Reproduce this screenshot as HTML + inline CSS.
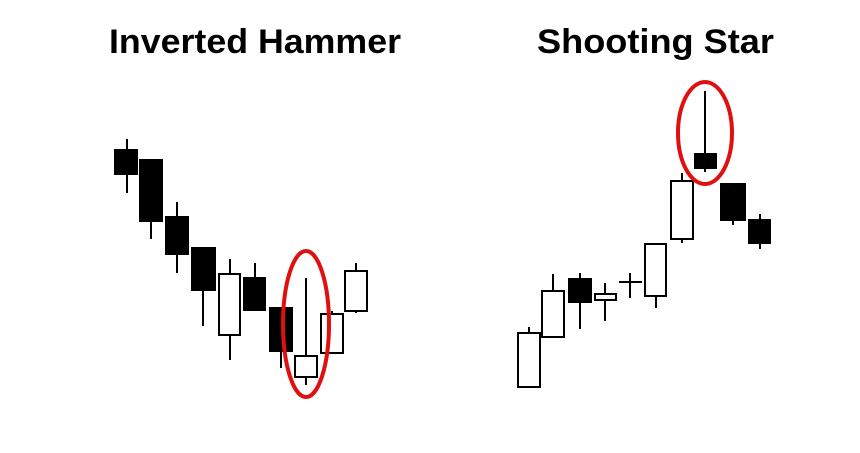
<!DOCTYPE html>
<html><head><meta charset="utf-8"><style>html,body{margin:0;padding:0;background:#fff;}svg{display:block}</style></head>
<body>
<svg width="860" height="453" viewBox="0 0 860 453" xmlns="http://www.w3.org/2000/svg">
<rect width="860" height="453" fill="#fff"/>
<g font-family="Liberation Sans, Arial, sans-serif" font-weight="bold" font-size="34" fill="#000">
<text x="109" y="53" textLength="292" lengthAdjust="spacingAndGlyphs">Inverted Hammer</text>
<text x="537" y="53" textLength="237" lengthAdjust="spacingAndGlyphs">Shooting Star</text>
</g>
<g stroke="#000" stroke-width="2">
<line x1="127" y1="139" x2="127" y2="193"/><rect x="115" y="150" width="22" height="24" fill="#000"/>
<line x1="151" y1="160" x2="151" y2="239"/><rect x="140" y="160" width="22" height="61" fill="#000"/>
<line x1="177" y1="202" x2="177" y2="273"/><rect x="166" y="217" width="22" height="37" fill="#000"/>
<line x1="203" y1="248" x2="203" y2="326"/><rect x="192" y="248" width="23" height="42" fill="#000"/>
<line x1="230" y1="259" x2="230" y2="360"/><rect x="219" y="274" width="21" height="61" fill="#fff"/>
<line x1="255" y1="263" x2="255" y2="300"/><rect x="244" y="278" width="21" height="32" fill="#000"/>
<line x1="281" y1="320" x2="281" y2="368"/><rect x="270" y="308" width="22" height="43" fill="#000"/>
<line x1="306" y1="278" x2="306" y2="385"/><rect x="295" y="356" width="22" height="21" fill="#fff"/>
<line x1="332" y1="311" x2="332" y2="330"/><rect x="321" y="314" width="22" height="39" fill="#fff"/>
<line x1="356" y1="263" x2="356" y2="313"/><rect x="345" y="271" width="22" height="40" fill="#fff"/>
<line x1="529" y1="327" x2="529" y2="340"/><rect x="518" y="333" width="22" height="54" fill="#fff"/>
<line x1="553" y1="274" x2="553" y2="300"/><rect x="542" y="291" width="22" height="46" fill="#fff"/>
<line x1="580" y1="273" x2="580" y2="329"/><rect x="569" y="279" width="22" height="23" fill="#000"/>
<line x1="605" y1="283" x2="605" y2="321"/><rect x="595" y="294" width="21" height="6" fill="#fff"/>
<line x1="619" y1="282" x2="642" y2="282"/><line x1="630" y1="273" x2="630" y2="298"/>
<line x1="656" y1="280" x2="656" y2="308"/><rect x="645" y="244" width="21" height="52" fill="#fff"/>
<line x1="682" y1="173" x2="682" y2="243"/><rect x="671" y="181" width="22" height="58" fill="#fff"/>
<line x1="705" y1="91" x2="705" y2="172"/><rect x="695" y="154" width="21" height="14" fill="#000"/>
<line x1="733" y1="200" x2="733" y2="225"/><rect x="721" y="184" width="24" height="36" fill="#000"/>
<line x1="760" y1="214" x2="760" y2="249"/><rect x="749" y="220" width="21" height="23" fill="#000"/>
</g>
<ellipse cx="306" cy="324" rx="23" ry="73" fill="none" stroke="#e01010" stroke-width="4"/>
<ellipse cx="705" cy="133" rx="27" ry="51" fill="none" stroke="#e01010" stroke-width="4"/>
</svg>
</body></html>
